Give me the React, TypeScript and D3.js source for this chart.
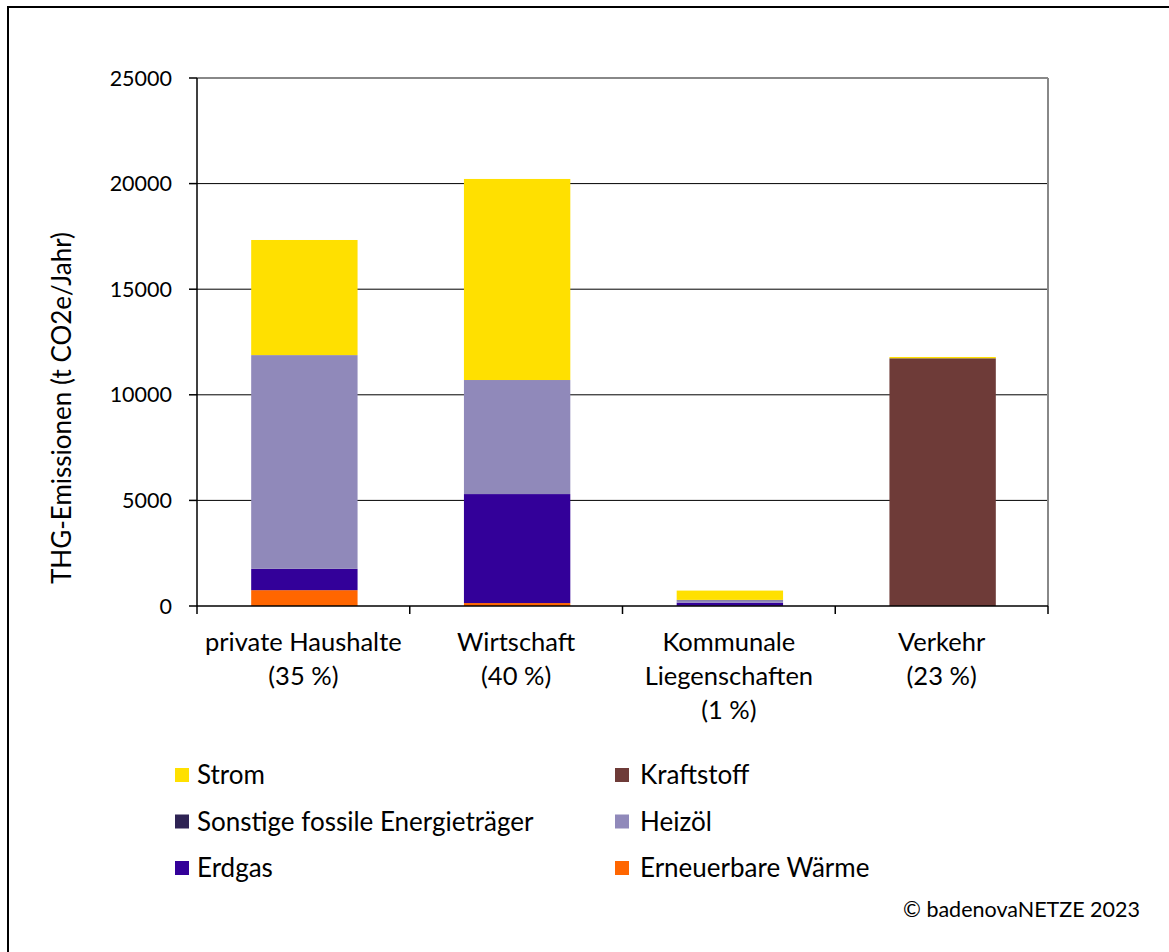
import React from "react";
import * as d3 from "d3";

const categories = ["private Haushalte|(35 %)", "Wirtschaft|(40 %)", "Kommunale|Liegenschaften|(1 %)", "Verkehr|(23 %)"];
const seriesNames = ["Erneuerbare Wärme", "Erdgas", "Heizöl", "Sonstige fossile Energieträger", "Kraftstoff", "Strom"];
const erneuerbare = [750, 140, 10, 0];
const erdgas = [1010, 5160, 150, 0];
const heizoel = [10120, 5400, 110, 0];
const sonstige = [0, 0, 20, 0];
const kraftstoff = [0, 0, 0, 11730];
const strom = [5450, 9520, 440, 60];
const yTicks = [0, 5000, 10000, 15000, 20000, 25000];
const legendOrder = ["Strom", "Kraftstoff", "Sonstige fossile Energieträger", "Heizöl", "Erdgas", "Erneuerbare Wärme"];

const colors: Record<string, string> = {
  "Erneuerbare Wärme": "#FF6600",
  "Erdgas": "#330099",
  "Heizöl": "#9089BA",
  "Sonstige fossile Energieträger": "#2E2354",
  "Kraftstoff": "#6E3B38",
  "Strom": "#FFE000",
};

const FONT = "Lato, 'Open Sans', sans-serif";

export default function App() {
  const W = 1169, H = 952;
  const left = 197, right = 1048, top = 78, bottom = 606;
  const values = [erneuerbare, erdgas, heizoel, sonstige, kraftstoff, strom];
  const rows = categories.map((c, i) => {
    const r: any = { cat: c };
    seriesNames.forEach((s, k) => (r[s] = values[k][i]));
    return r;
  });
  const stack = d3.stack<any>().keys(seriesNames)(rows);
  const x = d3.scaleBand().domain(categories).range([left, right]).paddingInner(0.5).paddingOuter(0.25);
  const xb = d3.scaleBand().domain(categories).range([left, right]);
  const y = d3.scaleLinear().domain([0, 25000]).range([bottom, top]);

  return (
    <svg width={W} height={H} style={{ position: "absolute", left: 0, top: 0, fontFamily: FONT }}>
      <rect x={0} y={0} width={W} height={H} fill="#fff" />
      <rect x={8} y={7} width={W + 20} height={H + 20} fill="none" stroke="#000" strokeWidth={2} />
      {/* gridlines */}
      {yTicks.filter((t) => t > 0).map((t) => (
        <line key={t} x1={left} x2={right} y1={y(t)} y2={y(t)} stroke="#000" strokeWidth={1} />
      ))}
      {/* plot border */}
      <line x1={left} x2={right} y1={top} y2={top} stroke="#888" strokeWidth={2} />
      <line x1={right} x2={right} y1={top} y2={bottom} stroke="#888" strokeWidth={2} />
      {/* bars */}
      {stack.map((layer) => (
        <g key={layer.key} fill={colors[layer.key]}>
          {layer.map((d, i) =>
            d[1] - d[0] > 0 ? (
              <rect key={i} x={x(categories[i])! + 1} width={x.bandwidth()} y={y(d[1])} height={y(d[0]) - y(d[1])} />
            ) : null
          )}
        </g>
      ))}
      {/* axes */}
      <line x1={left} x2={left} y1={top} y2={bottom} stroke="#000" strokeWidth={1.5} />
      <line x1={left} x2={right} y1={bottom} y2={bottom} stroke="#000" strokeWidth={1.5} />
      {yTicks.map((t) => (
        <g key={t}>
          <line x1={left - 8} x2={left} y1={y(t)} y2={y(t)} stroke="#000" strokeWidth={1.5} />
          <text x={172} y={y(t)} dy="0.35em" textAnchor="end" fontSize={21.5} fill="#000">
            {t}
          </text>
        </g>
      ))}
      {categories.map((c, i) => (
        <line key={"t" + i} x1={xb(c)!} x2={xb(c)!} y1={bottom} y2={bottom + 8} stroke="#000" strokeWidth={1.5} />
      ))}
      <line x1={right} x2={right} y1={bottom} y2={bottom + 8} stroke="#000" strokeWidth={1.5} />
      {categories.map((c) => (
        <text key={c} x={xb(c)! + xb.bandwidth() / 2} textAnchor="middle" fontSize={25.5} fill="#000">
          {c.split("|").map((l, j) => (
            <tspan key={j} x={xb(c)! + xb.bandwidth() / 2} y={651 + j * 34}>
              {l}
            </tspan>
          ))}
        </text>
      ))}
      <text transform={`translate(71,408) rotate(-90)`} textAnchor="middle" fontSize={26} fill="#000">
        THG-Emissionen (t CO2e/Jahr)
      </text>
      {/* legend */}
      {legendOrder.map((s, i) => {
        const col = i % 2, row = Math.floor(i / 2);
        const lx = col === 0 ? 175 : 615;
        const ly = 775 + row * 46.5;
        return (
          <g key={s}>
            <rect x={lx} y={ly - 7} width={14} height={14} fill={colors[s]} />
            <text x={lx + (col === 0 ? 22 : 25)} y={ly} dy="0.35em" fontSize={26} fill="#000">
              {s}
            </text>
          </g>
        );
      })}
      <text x={1140} y={909} dy="0.35em" textAnchor="end" fontSize={21.5} fill="#000">
        © badenovaNETZE 2023
      </text>
    </svg>
  );
}
